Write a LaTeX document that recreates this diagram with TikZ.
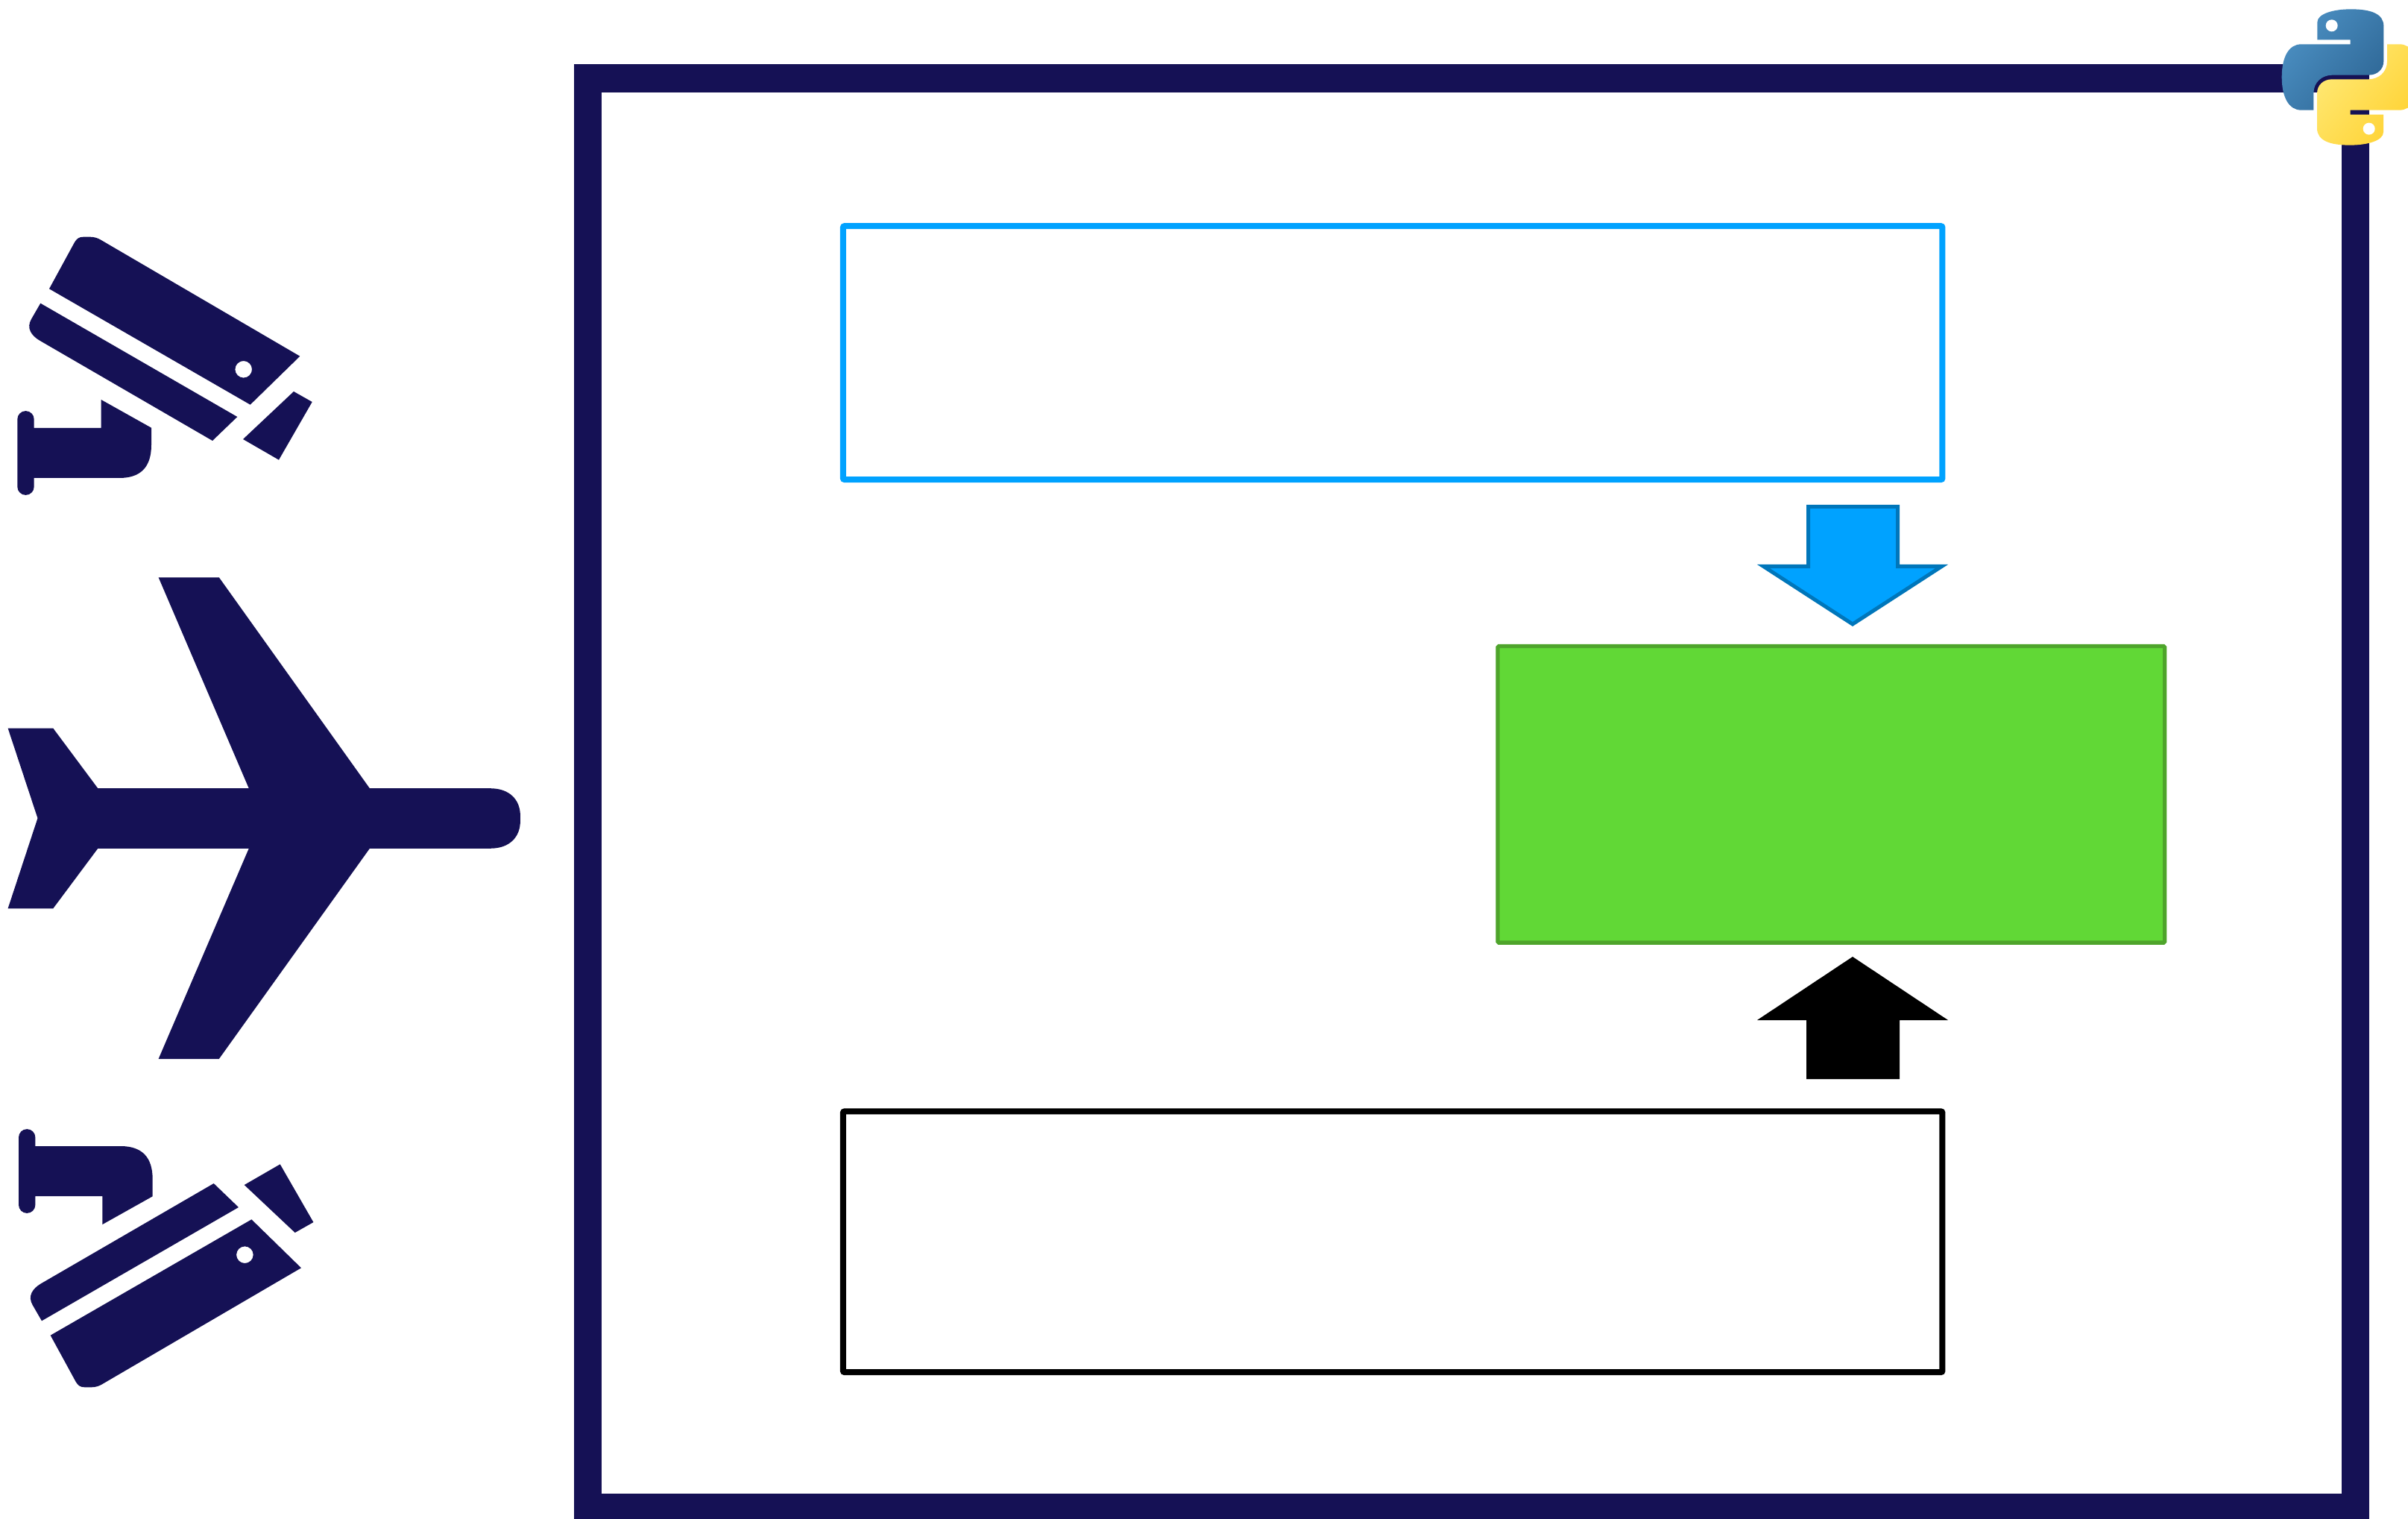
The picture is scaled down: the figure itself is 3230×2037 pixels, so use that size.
\documentclass[tikz,border=0pt]{standalone}
\usepackage{tikz}
\definecolor{framenavy}{HTML}{151155}
\definecolor{radarblue}{HTML}{00A2FF}
\definecolor{radarblueline}{HTML}{0076BA}
\definecolor{fusiongreen}{HTML}{61D836}
\definecolor{fusiongreenline}{HTML}{4EA42B}
\definecolor{pyblueA}{HTML}{4B8FC2}
\definecolor{pyblueB}{HTML}{2F6897}
\definecolor{pyyellowA}{HTML}{FFE873}
\definecolor{pyyellowB}{HTML}{FFD232}
\tikzset{
  outerframe/.style={draw=framenavy, line width=0.373cm, inner sep=0pt, outer sep=0pt},
  emptybox/.style={rounded corners=0.02cm, line width=0.08cm, inner sep=0pt, outer sep=0pt},
  fusionbox/.style={draw=fusiongreenline, fill=fusiongreen, rounded corners=0.015cm, line width=0.053cm, inner sep=0pt, outer sep=0pt},
  pyblue/.style={shade, shading=axis, top color=pyblueA, bottom color=pyblueB, shading angle=50},
  pyyellow/.style={shade, shading=axis, top color=pyyellowA, bottom color=pyyellowB, shading angle=50},
  camera/.pic={
    \fill[framenavy,even odd rule] (66,387.3) -- (100,325) .. controls (103,320) and (106,317.7) .. (112,317.7)
      -- (121,317.7) .. controls (126,317.7) and (130,319) .. (134,321) -- (402.3,477.7) -- (335.7,542.7) -- cycle
      (326.7,495.3) circle[radius=11.3];
    \fill[framenavy] (54.3,406.7) -- (318.3,559) -- (285,591) -- (53.3,456.7)
      .. controls (42,450) and (35,440) .. (42,428) -- cycle;
    \fill[framenavy] (394,525) -- (418.7,539) -- (374,616.7) -- (326,589) -- cycle;
    \fill[framenavy] (135.7,536) -- (203,573.7) -- (203,596.7) .. controls (203,626) and (189,641) .. (160,641)
      -- (45.7,641) -- (45.7,652.7) arc[start angle=0, end angle=180, radius=11.2]
      -- (23.3,562.3) arc[start angle=180, end angle=360, radius=11.2] -- (45.7,574) -- (135.7,574) -- cycle;
  },
  pyhalf/.pic={
    \path[pic actions] (385,160) -- (385,90) .. controls (385,55) and (450,37) .. (520,37)
      .. controls (600,37) and (652,55) .. (652,105) -- (652,245) .. controls (652,280) and (625,302) .. (592,302)
      -- (445,302) .. controls (405,302) and (370,330) .. (370,375) -- (370,443) -- (320,443)
      .. controls (270,443) and (242,390) .. (242,310) .. controls (242,230) and (270,178) .. (320,178)
      -- (518,178) -- (518,160) -- cycle;
    \fill[white] (443,103) circle[radius=24];
  }
}
\begin{document}
\begin{tikzpicture}[x=0.01cm, y=-0.01cm]
  \useasboundingbox (0,0) rectangle (3230,2037);
  % outer frame and the three boxes
  \node[outerframe, minimum width=23.695cm, minimum height=19.155cm] (frame) at (1974.25,1063.25) {};
  \node[emptybox, draw=radarblue, minimum width=14.737cm, minimum height=3.397cm] (radarbox) at (1868.15,473.15) {};
  \node[emptybox, draw=black, minimum width=14.737cm, minimum height=3.495cm] (camerabox) at (1868.15,1665.25) {};
  \node[fusionbox, minimum width=8.942cm, minimum height=3.973cm] (fusion) at (2456.4,1065.35) {};
  % block arrows
  \draw[draw=radarblueline, fill=radarblue, line width=0.05cm, miter limit=10]
    (2425.5,679.5) -- (2545.5,679.5) -- (2545.5,759.5) -- (2604.6,759.5) -- (2485,837) -- (2365.4,759.5) -- (2425.5,759.5) -- cycle;
  \fill[black] (2423,1447) -- (2548,1447) -- (2548,1368) -- (2613,1368) -- (2485,1283) -- (2357,1368) -- (2423,1368) -- cycle;
  % plane
  \fill[framenavy] (212.6,774.3) -- (293.8,774.3) -- (495.9,1057.2) -- (657.5,1057.2)
    .. controls (683,1057.2) and (697.9,1072) .. (697.9,1094) -- (697.9,1100.8)
    .. controls (697.9,1123) and (683,1137.8) .. (657.5,1137.8) -- (495.9,1137.8) -- (293.8,1420) -- (212.6,1420)
    -- (333.8,1137.8) -- (131.3,1137.8) -- (71.2,1218.4) -- (10.6,1218.4) -- (50.5,1097.2) -- (10.6,976.5)
    -- (71.2,976.5) -- (131.3,1057.2) -- (333.8,1057.2) -- cycle;
  % cameras
  \pic at (0,0) {camera};
  \pic[yscale=-1] at (1.7,2178) {camera};
  % logo
  \pic[pyblue, scale=1/3] at (2980,0) {pyhalf};
  \pic[pyyellow, scale=1/3, rotate=180] at (3325.33,207) {pyhalf};
\end{tikzpicture}
\end{document}
